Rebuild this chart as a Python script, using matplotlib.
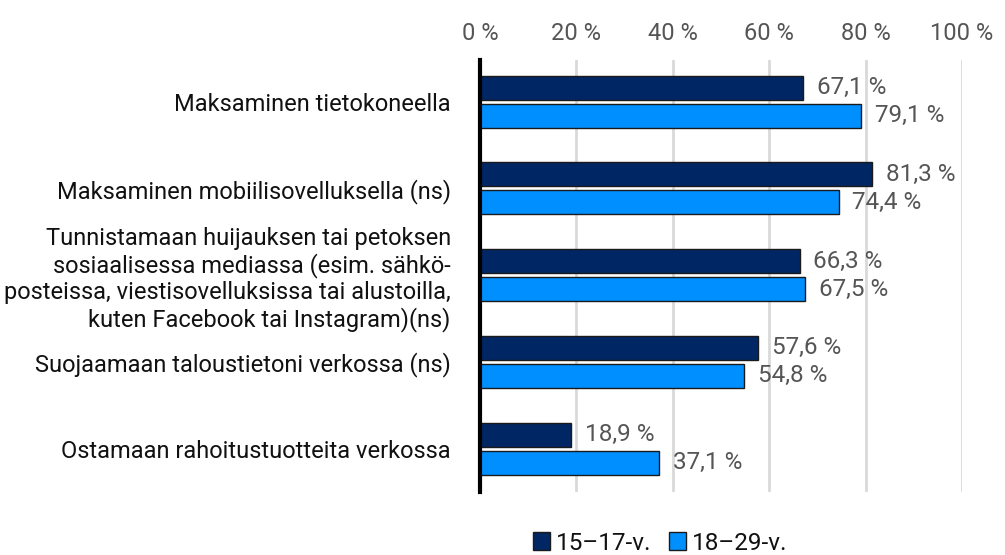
import matplotlib.pyplot as plt
from matplotlib.patches import Patch

categories = [
    "Maksaminen tietokoneella",
    "Maksaminen mobiilisovelluksella (ns)",
    "Tunnistamaan huijauksen tai petoksen\nsosiaalisessa mediassa (esim. sähkö-\nposteissa, viestisovelluksissa tai alustoilla,\nkuten Facebook tai Instagram)(ns)",
    "Suojaamaan taloustietoni verkossa (ns)",
    "Ostamaan rahoitustuotteita verkossa",
]
young = [67.1, 81.3, 66.3, 57.6, 18.9]
older = [79.1, 74.4, 67.5, 54.8, 37.1]
series_names = ["15–17-v.", "18–29-v."]
ticks = [0, 20, 40, 60, 80, 100]

plt.rcParams['font.family'] = ['Roboto', 'DejaVu Sans']
dark = "#002663"
light = "#008FFF"
txt = "#555555"

fig = plt.figure(figsize=(10.05, 5.55), dpi=100)
ax = fig.add_axes([480 / 1005, 1 - 492 / 555, 482 / 1005, 432 / 555])

y = list(range(len(categories)))
off = 0.162
h = 0.278
ax.barh([i - off for i in y], young, height=h, color=dark, edgecolor="#1a1a1a", linewidth=1, zorder=3)
ax.barh([i + off for i in y], older, height=h, color=light, edgecolor="#1a1a1a", linewidth=1, zorder=3)

def fmt(v):
    return f"{v:.1f}".replace(".", ",") + " %"

for i in y:
    ax.annotate(fmt(young[i]), (young[i], i - off), xytext=(10, 0), textcoords="offset points",
                va="center", ha="left", fontsize=17.5, color=txt)
    ax.annotate(fmt(older[i]), (older[i], i + off), xytext=(10, 0), textcoords="offset points",
                va="center", ha="left", fontsize=17.5, color=txt)

ax.set_xlim(0, 100)
ax.set_ylim(4.5, -0.48)
ax.set_xticks(ticks)
ax.set_xticklabels([f"{t} %" for t in ticks], fontsize=17, color=txt)
ax.xaxis.tick_top()
ax.tick_params(axis="x", length=0, pad=11)
ax.set_yticks(y)
ax.set_yticklabels(categories, fontsize=17, color="#111111", linespacing=1.15)
ax.tick_params(axis="y", length=0, pad=21)
ax.grid(axis="x", color="#D9D9D9", linewidth=2, zorder=0)
for s in ["top", "right", "bottom"]:
    ax.spines[s].set_visible(False)
ax.spines["left"].set_linewidth(3)
ax.spines["left"].set_color("black")
ax.spines["left"].set_zorder(4)

handles = [Patch(facecolor=dark, edgecolor="#1a1a1a"), Patch(facecolor=light, edgecolor="#1a1a1a")]
fig.legend(handles, series_names, loc="center", bbox_to_anchor=(660 / 1005, 1 - 543 / 555),
           ncol=2, frameon=False, fontsize=17.5, handlelength=0.7, handleheight=0.7,
           handletextpad=0.25, columnspacing=0.7, labelcolor="#111111")

fig.savefig("out.png", dpi=100)
